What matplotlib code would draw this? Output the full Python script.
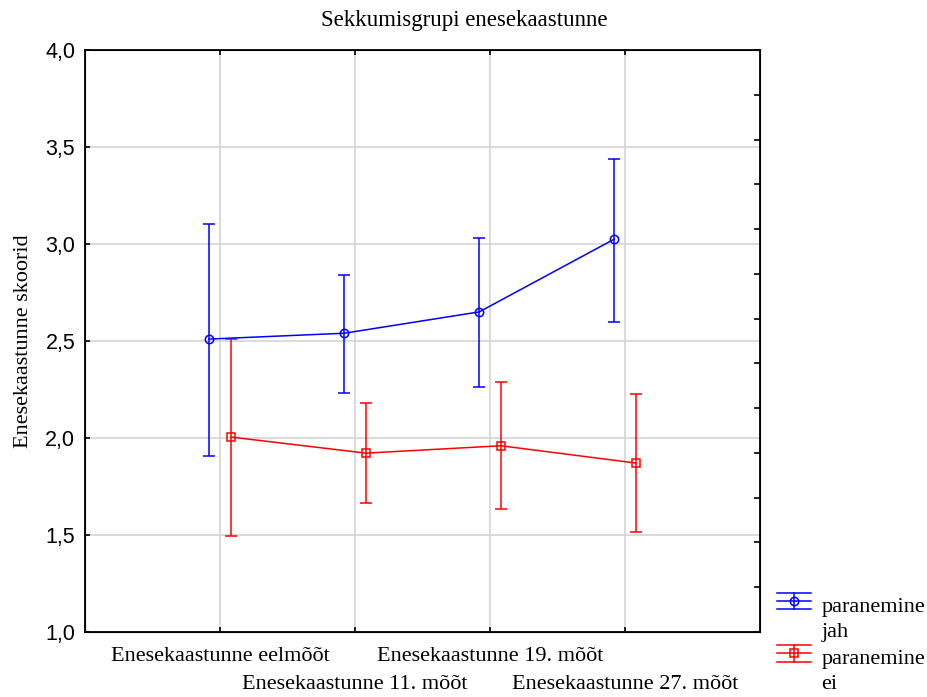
import numpy as np
import matplotlib
matplotlib.use("Agg")
import matplotlib.pyplot as plt
from matplotlib.lines import Line2D
from matplotlib.legend_handler import HandlerBase

# data
categories = ["Enesekaastunne eelmõõt", "Enesekaastunne 11. mõõt",
              "Enesekaastunne 19. mõõt", "Enesekaastunne 27. mõõt"]
jah_mean = [2.51, 2.54, 2.65, 3.025]
jah_low = [1.905, 2.232, 2.263, 2.598]
jah_high = [3.105, 2.84, 3.03, 3.438]
ei_mean = [2.005, 1.922, 1.96, 1.871]
ei_low = [1.495, 1.665, 1.634, 1.515]
ei_high = [2.51, 2.18, 2.289, 2.227]
series_labels = ["paranemine\njah", "paranemine\nei"]

SERIF = "Liberation Serif"
SANS = "Liberation Sans"
FS = 16


class CapHandler(HandlerBase):
    # legend key: horizontal line with marker plus full-width caps,
    # lifted so it sits next to the first line of the label
    def create_artists(self, legend, orig_handle, xdescent, ydescent,
                       width, height, fontsize, trans):
        c = orig_handle.get_color()
        m = orig_handle.get_marker()
        x0 = -xdescent
        x1 = x0 + width
        xm = (x0 + x1) / 2
        yc = -ydescent + height / 2 + 13
        h = 5.8
        kw = dict(color=c, lw=1.1, transform=trans)
        arts = [Line2D([x0, x1], [yc, yc], **kw),
                Line2D([x0, x1], [yc + h, yc + h], **kw),
                Line2D([x0, x1], [yc - h, yc - h], **kw),
                Line2D([xm, xm], [yc - h, yc + h], **kw),
                Line2D([xm], [yc], marker=m, ms=6, mfc="none", mec=c,
                       mew=1.1, transform=trans)]
        return arts


fig = plt.figure(figsize=(9.28, 6.97), dpi=100)
ax = fig.add_axes([85 / 928, 65 / 697, 675 / 928, 582 / 697])

x = np.arange(len(categories))
off = 0.08

for xs, mean, lo, hi, col, mk in [
        (x - off, jah_mean, jah_low, jah_high, "#0000ff", "o"),
        (x + off, ei_mean, ei_low, ei_high, "#ff0000", "s")]:
    mean = np.array(mean)
    yerr = [mean - np.array(lo), np.array(hi) - mean]
    ax.errorbar(xs, mean, yerr=yerr, color=col, marker=mk, ms=6,
                mfc="none", mec=col, mew=1.1, lw=1.1, elinewidth=1.1,
                capsize=4.6, capthick=1.1, zorder=3)

ax.set_xlim(-1, 4)
ax.set_ylim(1.0, 4.0)
yt = np.arange(1.0, 4.01, 0.5)
ax.set_yticks(yt)
ax.set_yticklabels([f"{v:.1f}".replace(".", ",") for v in yt],
                   fontfamily=SANS, fontsize=15.5)
ax.set_xticks(x)
ax.set_xticklabels([lab if i % 2 == 0 else "\n" + lab for i, lab in enumerate(categories)],
                   fontfamily=SERIF, fontsize=FS, linespacing=1.6)
ax.grid(True, color="#d4d4d4", lw=1.2, zorder=0)
ax.set_axisbelow(True)

ax.tick_params(axis="y", direction="in", length=3.5, width=1.2, pad=7,
               left=True, right=False)
ax.tick_params(axis="x", direction="in", length=3.5, width=1.2, pad=11,
               top=True, bottom=True)
for sp in ax.spines.values():
    sp.set_linewidth(1.3)

# right-hand minor scale
ax2 = ax.twinx()
ax2.set_ylim(0, 13)
ax2.set_yticks(np.arange(0, 14))
ax2.tick_params(axis="y", direction="in", length=4, width=1.2, labelright=False)

ax.set_ylabel("Enesekaastunne skoorid", fontfamily=SERIF, fontsize=FS, labelpad=9)
fig.suptitle("Sekkumisgrupi enesekaastunne", fontfamily=SERIF, fontsize=16.5,
             y=1 - 10 / 697, va="top")

handles = [Line2D([], [], color="#0000ff", marker="o"),
           Line2D([], [], color="#ff0000", marker="s")]
leg = fig.legend(handles, series_labels, loc="upper left",
                 bbox_to_anchor=(777 / 928, 1 - 598 / 697), frameon=False,
                 prop={"family": SERIF, "size": FS}, handlelength=1.55,
                 handletextpad=0.45, borderpad=0, borderaxespad=0,
                 labelspacing=0.4, handler_map={Line2D: CapHandler()})
for t in leg.get_texts():
    t.set_linespacing(1.4)

fig.savefig("out.png", dpi=100)
